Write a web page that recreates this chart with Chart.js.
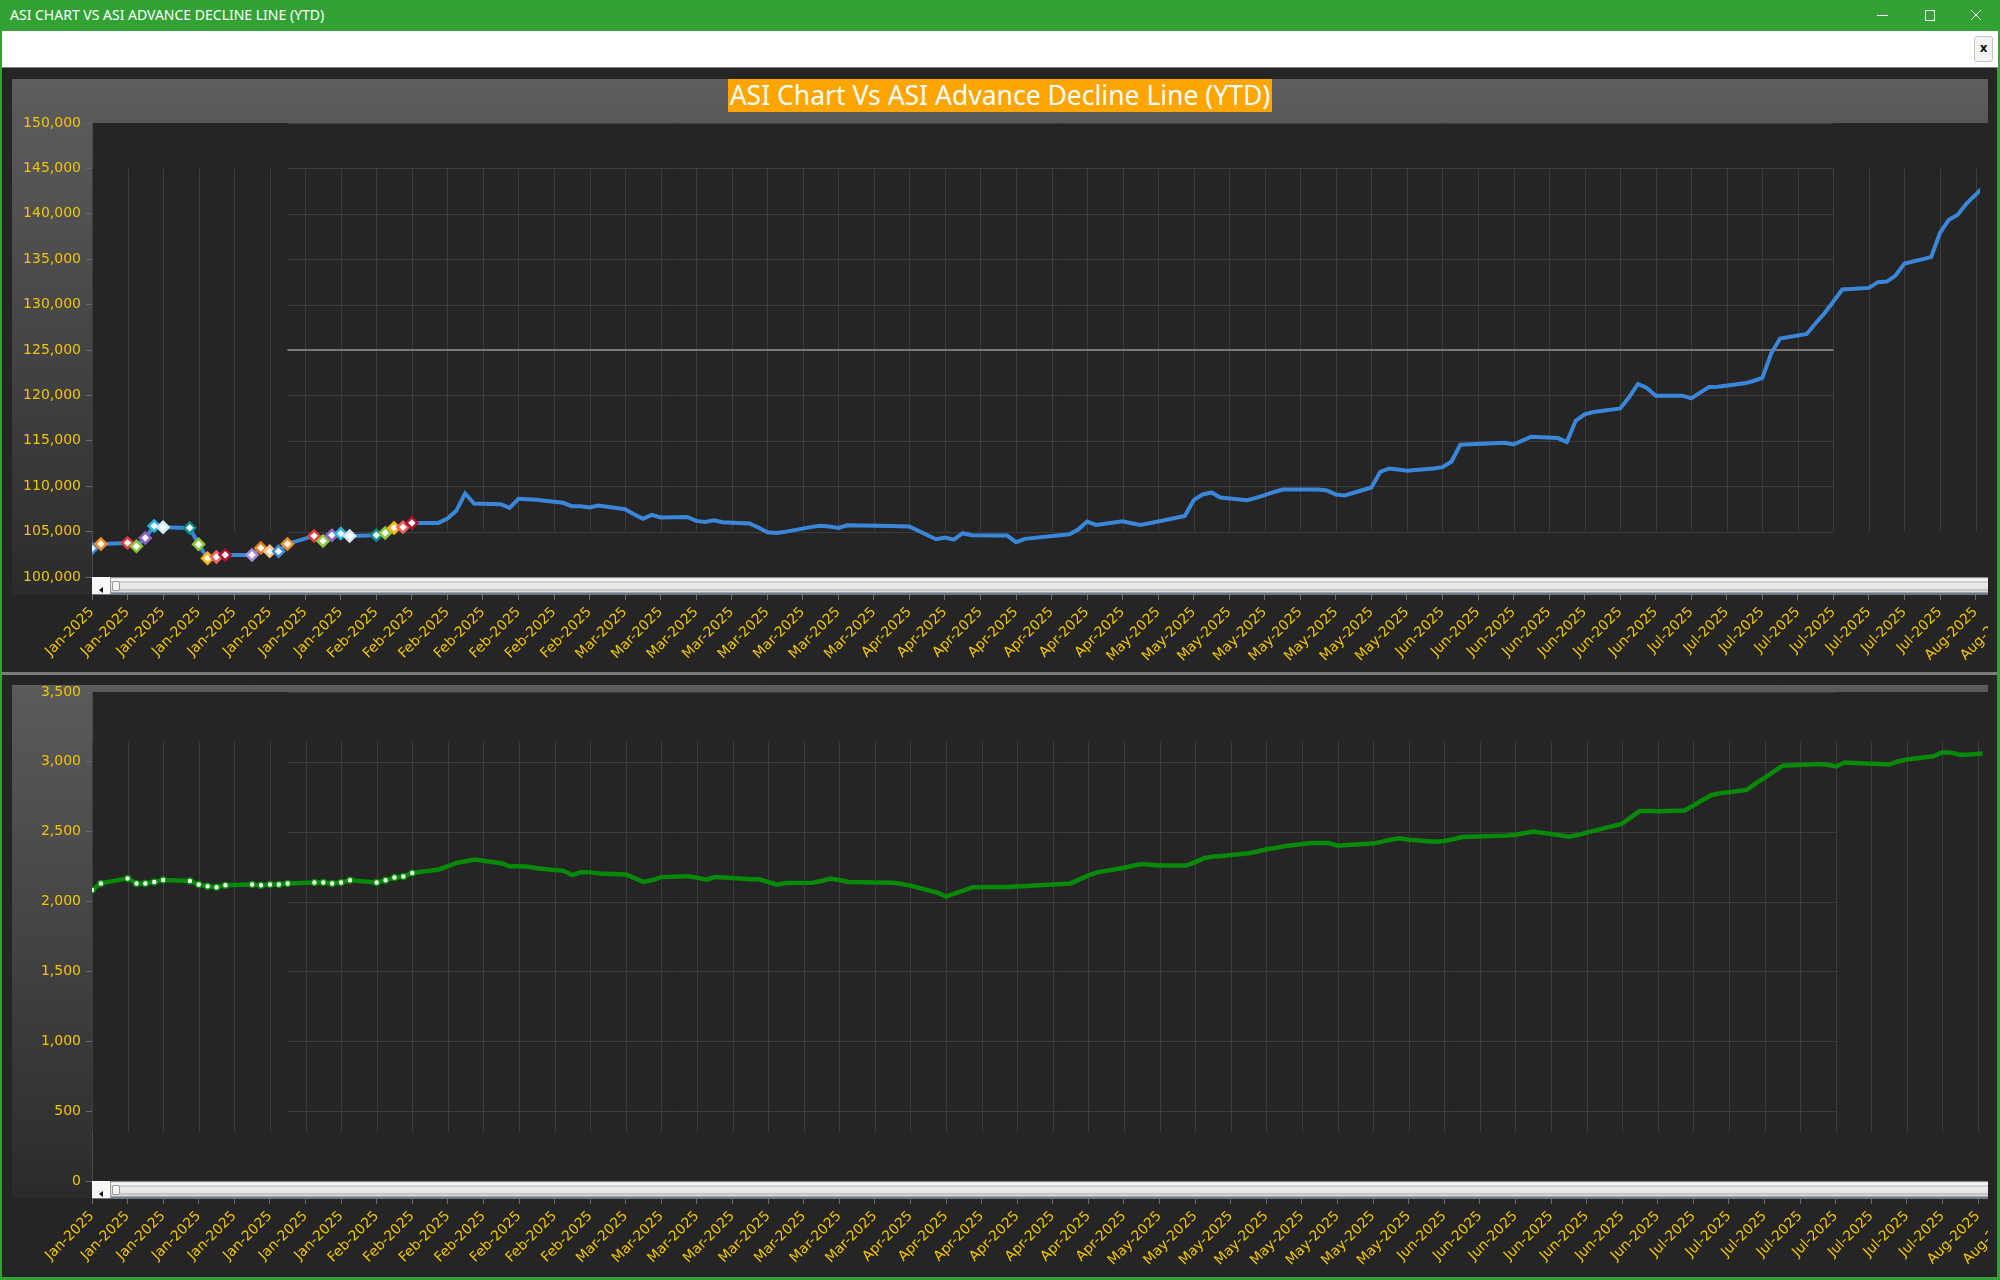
<!DOCTYPE html>
<html lang="en">
<head>
<meta charset="utf-8">
<title>ASI Chart Vs ASI Advance Decline Line (YTD)</title>
<script src="https://cdn.jsdelivr.net/npm/chart.js@4.4.1/dist/chart.umd.min.js"></script>
<style>
    html, body { margin: 0; padding: 0; }
    body {
        width: 2000px; height: 1280px; position: relative; overflow: hidden;
        background: #252525; font-family: "Noto Sans", sans-serif;
    }
    .box { position: absolute; }
    #titlebar { left: 0; top: 0; width: 2000px; height: 31px; background: #33a235; }
    #titlebar .caption { position: absolute; left: 10px; top: 6px; font-size: 14px; line-height: 18px; color: #fff; }
    #titlebar svg { position: absolute; top: 0; }
    #toolbar { left: 0; top: 31px; width: 1996px; height: 36px; background: #fff;
        border-left: 2px solid #33a235; border-right: 2px solid #33a235; border-bottom: 1px solid #7f7f7f; }
    #close-btn { left: 1974px; top: 36px; width: 17px; height: 24px; background: #f4f4f4; border: 1px solid #c6c6c6;
        border-radius: 3px; font: bold 12px "DejaVu Sans", sans-serif; color: #111; text-align: center; line-height: 22px; }
    .frame { background: #33a235; }
    .strip { background: linear-gradient(to bottom, #5e5e5e, #585858); }
    .axis-panel { background: linear-gradient(to bottom, #5a5a5a, #2b2b2b); }
    .chart-title { left: 12px; width: 1976px; text-align: center; }
    .chart-title span { background: #ffa500; color: #fff; font-size: 26.5px; line-height: 33px; padding: 0 2px; display: inline-block; }
    canvas { position: absolute; }
    .scrollbar { position: absolute; width: 1896px; height: 18px;
        background: linear-gradient(to bottom, #4e4e4e 0px, #cdcdcd 1px, #f7f7f7 2px, #f3f3f3 4px, #b2b2b2 5px, #ebebeb 6px,
            #e4e4e4 12px, #a9a9a9 13px, #e0e0e0 14px, #d6d6d6 15px, #6c7984 16px, #6c7984 18px); }
    .sb-btn { position: absolute; left: 0; top: 0; width: 18px; height: 17px; background: #f8f8f8; border-right: 1px solid #9d9d9d; }
    .sb-arrow { position: absolute; left: 7px; top: 10px; width: 0; height: 0; border-top: 3px solid transparent;
        border-bottom: 3px solid transparent; border-right: 4px solid #111; }
    .sb-thumb { position: absolute; left: 20px; top: 4px; width: 6px; height: 8px; border: 1px solid #999;
        border-radius: 2px; background: #f5f5f5; }
</style>
</head>
<body>
<div id="titlebar" class="box">
    <div class="caption">ASI CHART VS ASI ADVANCE DECLINE LINE (YTD)</div>
    <svg style="left:1870px" width="130" height="31">
        <line x1="7" y1="15.5" x2="18" y2="15.5" stroke="#fff" stroke-width="1"/>
        <rect x="55.5" y="10.5" width="9" height="10" fill="none" stroke="#fff" stroke-width="1"/>
        <line x1="101" y1="10" x2="111" y2="20" stroke="#fff" stroke-width="1"/>
        <line x1="111" y1="10" x2="101" y2="20" stroke="#fff" stroke-width="1"/>
    </svg>
</div>
<div id="toolbar" class="box"></div>
<div id="close-btn" class="box">x</div>

<div class="box frame" style="left:0;top:68px;width:2px;height:1212px"></div>
<div class="box frame" style="left:1997px;top:68px;width:3px;height:1212px"></div>
<div class="box frame" style="left:0;top:1277px;width:2000px;height:3px"></div>

<!-- top chart -->
<div class="box strip" style="left:12px;top:79px;width:1976px;height:44px"></div>
<div class="box chart-title" style="top:79px"><span>ASI Chart Vs ASI Advance Decline Line (YTD)</span></div>
<div class="box axis-panel" style="left:12px;top:123px;width:80px;height:472px"></div>
<canvas id="asi-chart" width="1976" height="586" style="left:12px;top:79px;width:1976px;height:586px"></canvas>
<div class="scrollbar" style="left:92px;top:577px"><div class="sb-btn"><span class="sb-arrow"></span></div><div class="sb-thumb"></div></div>

<div class="box" style="left:2px;top:672px;width:1995px;height:3px;background:#7b7b7b"></div>

<!-- bottom chart -->
<div class="box strip" style="left:12px;top:685px;width:1976px;height:7px"></div>
<div class="box axis-panel" style="left:12px;top:692px;width:80px;height:506px"></div>
<canvas id="adl-chart" width="1976" height="594" style="left:12px;top:675px;width:1976px;height:594px"></canvas>
<div class="scrollbar" style="left:92px;top:1181px"><div class="sb-btn"><span class="sb-arrow"></span></div><div class="sb-thumb"></div></div>

<script>
// trading days (MM-DD, 2025) and the two series read for each day
const tradeDates = [
    '01-02', '01-03', '01-06', '01-07', '01-08', '01-09', '01-10', '01-13', '01-14', '01-15',
    '01-16', '01-17', '01-20', '01-21', '01-22', '01-23', '01-24', '01-27', '01-28', '01-29',
    '01-30', '01-31', '02-03', '02-04', '02-05', '02-06', '02-07', '02-10', '02-11', '02-12',
    '02-13', '02-14', '02-17', '02-18', '02-19', '02-20', '02-21', '02-24', '02-25', '02-26',
    '02-27', '02-28', '03-03', '03-04', '03-05', '03-06', '03-07', '03-10', '03-11', '03-12',
    '03-13', '03-14', '03-17', '03-18', '03-19', '03-20', '03-21', '03-24', '03-25', '03-26',
    '03-27', '03-28', '04-02', '04-03', '04-04', '04-07', '04-08', '04-09', '04-10', '04-11',
    '04-14', '04-15', '04-16', '04-17', '04-22', '04-23', '04-24', '04-25', '04-28', '04-29',
    '04-30', '05-02', '05-05', '05-06', '05-07', '05-08', '05-09', '05-12', '05-13', '05-14',
    '05-15', '05-16', '05-19', '05-20', '05-21', '05-22', '05-23', '05-26', '05-27', '05-28',
    '05-29', '05-30', '06-02', '06-03', '06-04', '06-05', '06-10', '06-11', '06-13', '06-16',
    '06-17', '06-18', '06-19', '06-20', '06-23', '06-24', '06-25', '06-26', '06-27', '06-30',
    '07-01', '07-02', '07-03', '07-04', '07-07', '07-08', '07-09', '07-10', '07-11', '07-14',
    '07-15', '07-16', '07-17', '07-18', '07-21', '07-22', '07-23', '07-24', '07-25', '07-28',
    '07-29', '07-30', '07-31', '08-01', '08-04'
];

const asiValues = [
    103160, 103640, 103750, 103380, 104300, 105620, 105480, 105400, 103600, 102060,
    102210, 102430, 102430, 103200, 102830, 102830, 103640, 104520, 103970, 104600,
    104780, 104520, 104600, 104850, 105400, 105480, 105960, 105960, 106440, 107290,
    109200, 108090, 108020, 107610, 108610, 108570, 108500, 108170, 107800, 107800,
    107650, 107870, 107470, 106920, 106400, 106840, 106550, 106620, 106180, 106070,
    106250, 106030, 105890, 105450, 104930, 104860, 104970, 105520, 105630, 105560,
    105410, 105700, 105630, 105590, 105560, 104160, 104340, 104120, 104820, 104600,
    104560, 104560, 103830, 104200, 104710, 105230, 106110, 105740, 106140, 105920,
    105740, 106110, 106730, 108460, 109090, 109310, 108750, 108460, 108720, 109010,
    109340, 109640, 109640, 109640, 109530, 109090, 108980, 109860, 111590, 111950,
    111840, 111700, 111950, 112100, 112690, 114560, 114780, 114600, 115450, 115300,
    114860, 117210, 117910, 118170, 118570, 119790, 121260, 120810, 119970, 119970,
    119670, 120300, 120920, 120960, 121330, 121590, 121920, 124640, 126260, 126770,
    127950, 129050, 130340, 131660, 131840, 132470, 132540, 133200, 134530, 135230,
    137910, 139340, 139900, 141150, 144000
];

const adlValues = [
    2083, 2130, 2166, 2130, 2130, 2140, 2154, 2147, 2123, 2109,
    2102, 2116, 2123, 2116, 2123, 2123, 2130, 2137, 2137, 2130,
    2137, 2152, 2137, 2152, 2173, 2180, 2204, 2230, 2254, 2277,
    2289, 2301, 2275, 2251, 2254, 2249, 2239, 2220, 2190, 2211,
    2209, 2201, 2194, 2168, 2140, 2154, 2175, 2182, 2171, 2156,
    2175, 2173, 2159, 2159, 2140, 2121, 2133, 2135, 2147, 2164,
    2154, 2140, 2135, 2126, 2114, 2064, 2036, 2059, 2081, 2102,
    2104, 2104, 2107, 2111, 2130, 2159, 2187, 2209, 2242, 2256,
    2268, 2258, 2258, 2282, 2310, 2322, 2327, 2346, 2358, 2374,
    2384, 2396, 2419, 2419, 2419, 2400, 2405, 2415, 2429, 2443,
    2453, 2443, 2429, 2434, 2446, 2462, 2472, 2479, 2502, 2474,
    2465, 2476, 2493, 2510, 2557, 2604, 2649, 2649, 2647, 2652,
    2687, 2725, 2761, 2775, 2799, 2846, 2886, 2929, 2972, 2981,
    2984, 2979, 2967, 2995, 2986, 2984, 2981, 3003, 3017, 3040,
    3069, 3066, 3050, 3052, 3066
];

const monthNames = ['Jan', 'Feb', 'Mar', 'Apr', 'May', 'Jun', 'Jul', 'Aug', 'Sep', 'Oct', 'Nov', 'Dec'];
const markerColors = ['#3f8ddf', '#f28c28', '#e23b3b', '#8cc63f', '#8e5fc2', '#26b5e3', '#d2e9fa', '#0e8c8c',
                      '#8cc63f', '#ffb400', '#f0645a', '#b0102a', '#a98ccf', '#e87d12', '#f7c28f'];
const MARKED_POINTS = 27;   // only the first month-ish carries markers in the original
const GOLD = '#f2c500';

Chart.defaults.font.family = '"DejaVu Sans", sans-serif';
Chart.defaults.font.size = 14;

// day number counted from 2 Jan 2025
const firstDay = Date.UTC(2025, 0, 2);
const dayOffsets = tradeDates.map(s => {
    const [m, d] = s.split('-').map(Number);
    return (Date.UTC(2025, m - 1, d) - firstDay) / 86400000;
});

function dayLabel(v) {
    const d = new Date(firstDay + v * 86400000);
    return monthNames[d.getUTCMonth()] + '-' + d.getUTCFullYear();
}

// the original only paints part of its grid; keep that look
const partialGrid = {
    id: 'partialGrid',
    beforeDatasetsDraw(chart, args, opts) {
        const { ctx, scales: { x, y } } = chart;
        ctx.save();
        ctx.strokeStyle = '#3c3c3c';
        ctx.lineWidth = 1;
        const x0 = x.getPixelForValue(opts.hFrom), x1 = x.getPixelForValue(opts.hTo);
        y.ticks.forEach(t => {
            const py = Math.round(y.getPixelForValue(t.value)) + 0.5;
            ctx.beginPath(); ctx.moveTo(x0, py); ctx.lineTo(x1, py); ctx.stroke();
        });
        const y0 = y.getPixelForValue(opts.vTop), y1 = y.getPixelForValue(opts.vBottom);
        x.ticks.forEach(t => {
            if (t.value > x.max) return;
            const px = Math.round(x.getPixelForValue(t.value)) + 0.5;
            ctx.beginPath(); ctx.moveTo(px, y0); ctx.lineTo(px, y1); ctx.stroke();
        });
        if (opts.mark != null) {
            const py = Math.round(y.getPixelForValue(opts.mark));
            ctx.strokeStyle = '#787878';
            ctx.lineWidth = 2;
            ctx.beginPath(); ctx.moveTo(x0, py); ctx.lineTo(x1, py); ctx.stroke();
        }
        ctx.restore();
    }
};

function buildChart(canvasId, values, cfg) {
    return new Chart(document.getElementById(canvasId), {
        type: 'line',
        data: {
            datasets: [{
                data: values.map((v, i) => ({ x: dayOffsets[i], y: v })),
                borderColor: cfg.lineColor,
                borderWidth: cfg.lineWidth,
                tension: 0,
                pointStyle: cfg.pointStyle,
                pointRadius: ctx => ctx.dataIndex < MARKED_POINTS ? cfg.pointRadius : 0,
                pointBackgroundColor: '#ffffff',
                pointBorderColor: cfg.pointBorder,
                pointBorderWidth: cfg.pointBorderWidth
            }]
        },
        options: {
            responsive: false,
            animation: false,
            layout: { padding: { top: cfg.topPad, left: 0, right: 0, bottom: 0 } },
            plugins: {
                legend: { display: false },
                tooltip: { enabled: false },
                partialGrid: cfg.grid
            },
            scales: {
                x: {
                    type: 'linear',
                    min: 0,
                    max: 212.5,
                    afterBuildTicks: s => {
                        // one tick every 4 days; the one past the edge only shows a clipped label
                        s.ticks = [];
                        for (let v = 0; v <= s.max + 4; v += 4) s.ticks.push({ value: v });
                    },
                    afterFit: s => { s.height = 88; s.paddingLeft = 0; s.paddingRight = 0; },
                    ticks: {
                        autoSkip: false,
                        minRotation: 45,
                        maxRotation: 45,
                        color: GOLD,
                        padding: 4,
                        callback: v => dayLabel(v)
                    },
                    grid: { drawOnChartArea: false, tickLength: 23, color: '#6a6a6a' },
                    border: { display: false }
                },
                y: {
                    min: cfg.yMin,
                    max: cfg.yMax,
                    afterFit: s => { s.width = 80; },
                    ticks: {
                        stepSize: cfg.yStep,
                        color: GOLD,
                        padding: 5,
                        callback: v => v.toLocaleString('en-US')
                    },
                    grid: { drawOnChartArea: false, tickLength: 6, color: '#6a6a6a' },
                    border: { color: '#4a4a4a' }
                }
            }
        },
        plugins: [partialGrid]
    });
}

buildChart('asi-chart', asiValues, {
    lineColor: '#3a87da', lineWidth: 4,
    pointStyle: 'rectRot', pointRadius: 5.5, pointBorderWidth: 2.5,
    pointBorder: ctx => markerColors[ctx.dataIndex % markerColors.length],
    topPad: 44, yMin: 100000, yMax: 150000, yStep: 5000,
    grid: { hFrom: 22, hTo: 196, vTop: 145000, vBottom: 105000, mark: 125000 }
});

buildChart('adl-chart', adlValues, {
    lineColor: '#078a07', lineWidth: 4.5,
    pointStyle: 'circle', pointRadius: 3, pointBorderWidth: 1.5,
    pointBorder: '#078a07',
    topPad: 17, yMin: 0, yMax: 3500, yStep: 500,
    grid: { hFrom: 22, hTo: 196, vTop: 3145, vBottom: 350, mark: null }
});
</script>
</body>
</html>
